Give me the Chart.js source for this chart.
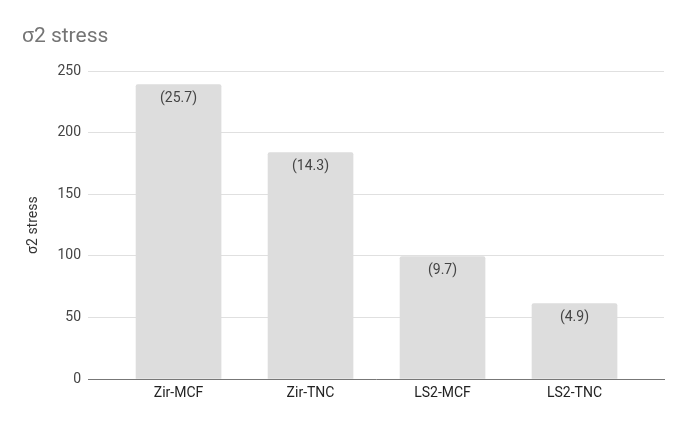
<!DOCTYPE html>
<html lang="en">
<head>
    <meta charset="UTF-8">
    <title>σ2 stress</title>
    <script src="https://cdn.jsdelivr.net/npm/chart.js"></script>
    <style>
        body { margin: 0; background: #fff; font-family: Roboto, sans-serif; }
        .chart-container { width: 685px; height: 423px; position: relative; }
    </style>
</head>
<body>
    <div class="chart-container">
        <canvas id="chart"></canvas>
    </div>

    <script>
        const categories = ['Zir-MCF', 'Zir-TNC', 'LS2-MCF', 'LS2-TNC'];
        const stressValues = [239.2, 183.9, 99.5, 61.2];
        const barLabels = ['(25.7)', '(14.3)', '(9.7)', '(4.9)'];
        const yTicks = [0, 50, 100, 150, 200, 250];

        // labels drawn inside the top of each bar
        const barLabelPlugin = {
            id: 'barLabels',
            afterDatasetsDraw(chart) {
                const ctx = chart.ctx;
                const meta = chart.getDatasetMeta(0);
                ctx.save();
                ctx.font = '14px Roboto';
                ctx.fillStyle = '#444';
                ctx.textAlign = 'center';
                ctx.textBaseline = 'middle';
                meta.data.forEach((bar, i) => {
                    ctx.fillText(barLabels[i], bar.x, bar.y + 14);
                });
                ctx.restore();
            }
        };

        new Chart(document.getElementById('chart'), {
            type: 'bar',
            data: {
                datasets: [{
                    label: 'σ2 stress',
                    data: stressValues.map((v, i) => ({ x: i, y: v })),
                    backgroundColor: '#dddddd',
                    borderRadius: { topLeft: 2, topRight: 2 },
                    borderSkipped: 'bottom',
                    barThickness: 85
                }]
            },
            options: {
                responsive: true,
                maintainAspectRatio: false,
                animation: false,
                layout: { padding: { left: 22, right: 21, top: 0, bottom: 0 } },
                plugins: {
                    legend: { display: false },
                    tooltip: { enabled: false },
                    title: {
                        display: true,
                        text: 'σ2 stress',
                        align: 'start',
                        color: '#757575',
                        font: { family: 'Roboto', size: 21, weight: 'normal' },
                        padding: { top: 24, bottom: 22 }
                    }
                },
                scales: {
                    x: {
                        type: 'linear',
                        offset: false,
                        min: -0.686,
                        max: 3.678,
                        afterBuildTicks: (scale) => {
                            scale.ticks = categories.map((c, i) => ({ value: i }));
                        },
                        afterFit: (scale) => { scale.height = 44; },
                        ticks: {
                            callback: (v) => categories[v] ?? '',
                            color: '#222',
                            font: { family: 'Roboto', size: 14 },
                            padding: 6,
                            maxRotation: 0,
                            autoSkip: false
                        },
                        grid: { display: false, drawTicks: false },
                        border: { display: true, color: '#777', width: 1 }
                    },
                    y: {
                        min: 0,
                        max: 250,
                        afterBuildTicks: (scale) => {
                            scale.ticks = yTicks.map(v => ({ value: v }));
                        },
                        afterFit: (scale) => { scale.width = 66; },
                        ticks: {
                            color: '#444',
                            font: { family: 'Roboto', size: 14 },
                            padding: 7
                        },
                        grid: { color: '#e0e0e0', drawTicks: false },
                        border: { display: false },
                        title: {
                            display: true,
                            text: 'σ2 stress',
                            color: '#333',
                            font: { family: 'Roboto', size: 14 },
                            padding: { top: 3, bottom: 0 }
                        }
                    }
                }
            },
            plugins: [barLabelPlugin]
        });
    </script>
</body>
</html>
